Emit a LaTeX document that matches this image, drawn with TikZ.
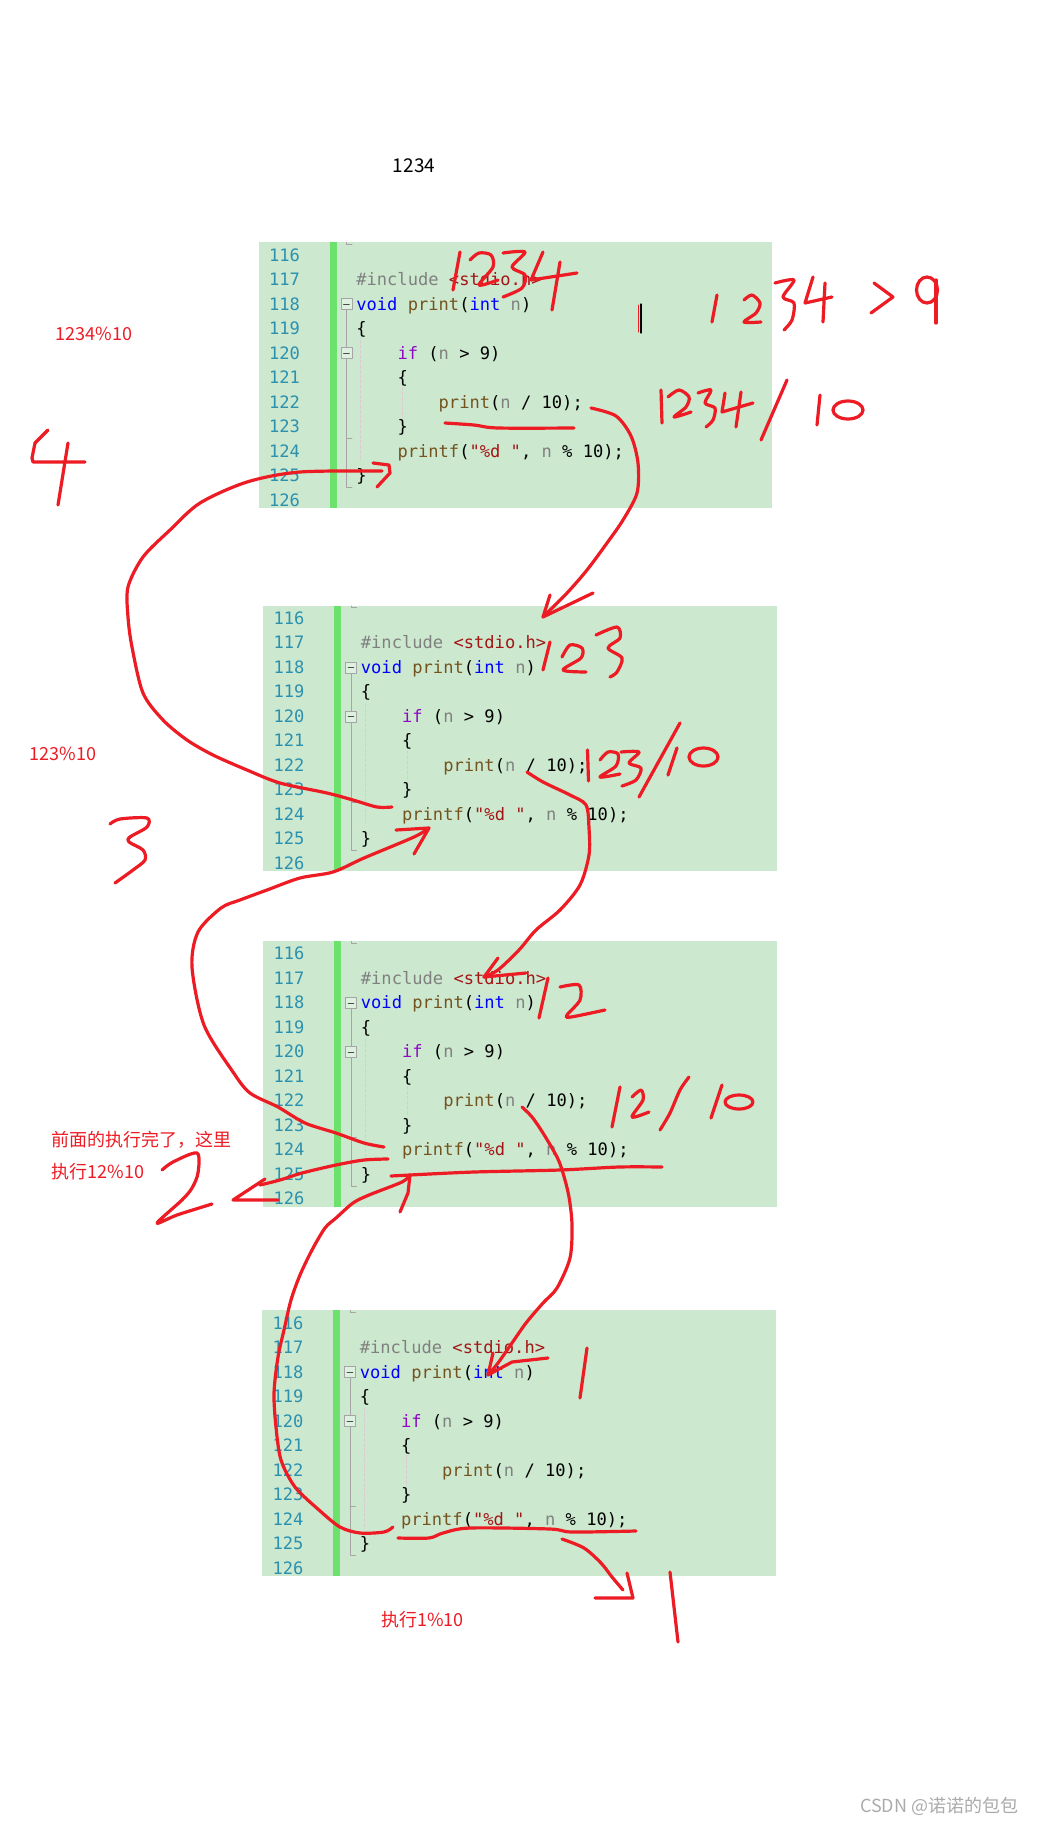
\documentclass[tikz,border=0pt]{standalone}
\usepackage{fontspec}
\setmainfont{Noto Sans CJK SC}
\setmonofont{DejaVu Sans Mono}
\definecolor{annot}{RGB}{237,28,36}
\definecolor{panelbg}{RGB}{204,232,207}
\definecolor{barcol}{RGB}{108,226,108}
\definecolor{lncol}{RGB}{43,145,175}
\definecolor{ckey}{RGB}{0,0,255}
\definecolor{cfun}{RGB}{116,83,31}
\definecolor{cgray}{RGB}{128,128,128}
\definecolor{cstr}{RGB}{163,21,21}
\definecolor{cif}{RGB}{143,8,196}
\definecolor{foldcol}{RGB}{165,165,165}
\definecolor{guidecol}{RGB}{222,200,212}
\newcommand{\codefont}{\ttfamily\fontsize{17.1}{20}\selectfont}
% one editor screenshot: name, left, top
\newcommand{\codepanel}[3]{%
 \begin{scope}[shift={(#2,#3)}]
  \fill[panelbg] (0,0) rectangle (513.5,265.6);
  \fill[barcol] (71,0) rectangle (78,265.6);
  \foreach \i in {0,...,10}{
    \pgfmathtruncatemacro\num{116+\i}
    \node[lnum] (#1n\num) at (41.5,{18.7+24.5*\i}) {\num};}
  \draw[foldcol] (87.8,0)--(87.8,1.5)--(93.5,1.5);
  \draw[foldcol] (87.8,67)--(87.8,105) (87.8,116)--(87.8,244.5)--(93.5,244.5) (87.8,196)--(93.5,196);
  \foreach \y in {61.5,110.5}{
    \draw[foldcol, fill=white!35!panelbg] (82.3,\y-5.5) rectangle (93.3,\y+5.5);
    \draw[black!70] (84.8,\y)--(90.8,\y);}
  \draw[guidecol, densely dashed] (101.6,98)--(101.6,218) (144,145)--(144,175);
  \node[code] (#1c117) at (97.5,{18.7+24.5*1}) {\textcolor{cgray}{\#include} \textcolor{cstr}{<stdio.h>}};
  \node[code] (#1c118) at (97.5,{18.7+24.5*2}) {\textcolor{ckey}{void} \textcolor{cfun}{print}(\textcolor{ckey}{int} \textcolor{cgray}{n})};
  \node[code] (#1c119) at (97.5,{18.7+24.5*3}) {\{};
  \node[code] (#1c120) at (138.7,{18.7+24.5*4}) {\textcolor{cif}{if} (\textcolor{cgray}{n} > 9)};
  \node[code] (#1c121) at (138.7,{18.7+24.5*5}) {\{};
  \node[code] (#1c122) at (179.9,{18.7+24.5*6}) {\textcolor{cfun}{print}(\textcolor{cgray}{n} / 10);};
  \node[code] (#1c123) at (138.7,{18.7+24.5*7}) {\}};
  \node[code] (#1c124) at (138.7,{18.7+24.5*8}) {\textcolor{cfun}{printf}(\textcolor{cstr}{"\%d "}, \textcolor{cgray}{n} \% 10);};
  \node[code] (#1c125) at (97.5,{18.7+24.5*9}) {\}};
 \end{scope}}

\begin{document}
\begin{tikzpicture}[x=1pt, y=-1pt, line join=round, line cap=round,
    pen/.style={draw=annot, line width=3.2pt},
    lnum/.style={anchor=base east, inner sep=0pt, font=\codefont, text=lncol},
    code/.style={anchor=base west, inner sep=0pt, font=\codefont},
    note/.style={inner sep=0pt, text=annot, font=\fontsize{18}{20}\selectfont}]
\useasboundingbox (0,0) rectangle (1046,1826);
\fill[white] (0,0) rectangle (1046,1826);
% the four copies of the function
\codepanel{pa}{258.6}{242.3}
\codepanel{pb}{263.2}{605.7}
\codepanel{pc}{263.2}{941.2}
\codepanel{pd}{262.1}{1310.4}
% printed texts
\node[inner sep=0pt, font=\fontsize{19}{20}\selectfont] (out) at (414,166) {1234};
\node[note] (m1) at (94,334) {1234\%10};
\node[note] (m2) at (63,753.5) {123\%10};
\node[note, anchor=west] (m3) at (51.7,1140) {前面的执行完了，这里};
\node[note, anchor=west] (m4) at (51.7,1171.7) {执行12\%10};
\node[note, anchor=west] (m5) at (381,1620) {执行1\%10};
\node[inner sep=0pt, anchor=west, text=black!33, font=\fontsize{18}{20}\selectfont] (wm) at (860,1806.6) {CSDN @诺诺的包包};
% --- first call: n = 1234
\draw[pen] (460,252)--(453,290);
\draw[pen] plot[smooth] coordinates {(470,260)(479,253)(491,255)(493,267)(479,285)(498,280)};
\draw[pen] plot[smooth] coordinates {(503,253)(525,252)(512,267)(525,275)(522,288)(503,297)};
\draw[pen] (543,252)--(531,280)--(577,273) (560,262)--(552,310);
\draw[pen] plot[smooth] coordinates {(445,423)(474,425)(498,428)(574,428)};
\draw[black, line width=1.2pt] (641,304)--(641,333);
\draw[annot, line width=1pt] (638.8,305)--(638.8,332);
\draw[pen] (717,295)--(712,322);
\draw[pen] plot[smooth] coordinates {(744,300)(752,295)(760,303)(756,313)(744,322)(761,322)};
\draw[pen] plot[smooth] coordinates {(775,283)(794,280)(783,297)(794,303)(792,320)(784,330)};
\draw[pen] (813,277)--(805,303)--(832,297) (825,283)--(823,322);
\draw[pen] (874,283)--(893,297)--(871,313);
\draw[pen] (927,290) ellipse[x radius=10.5, y radius=13];
\draw[pen] (936,280)--(936,323);
\draw[pen] (661,390)--(662,423);
\draw[pen] plot[smooth] coordinates {(668,397)(679,390)(689,397)(686,407)(674,417)(691,412)};
\draw[pen] plot[smooth] coordinates {(698,393)(711,390)(705,403)(715,408)(713,420)(706,427)};
\draw[pen] (725,393)--(722,412)--(753,403) (741,392)--(736,427);
\draw[pen] (787,380)--(761,440);
\draw[pen] (820,395)--(817,425);
\draw[pen] (848,410) ellipse[x radius=15, y radius=9];
\draw[pen] (48,430)--(35,443)--(32,458)--(33,462)--(85,462) (68,443)--(58,505);
\draw[pen] plot[smooth] coordinates {(591,408)(616,416)(631,436)(638,463)(637,493)(623,520)(607,543)(587,570)(567,593)(543,617)};
\draw[pen] (550,595)--(543,617)--(593,593);
\draw[pen] plot[smooth] coordinates {(392,807)(377,807)(353,800)(327,793)(280,783)(247,770)(213,755)(187,740)(163,720)(143,693)(132,647)(128,617)(128,587)(143,557)(170,530)(200,503)(247,482)(300,472)(382,471)};
\draw[pen] (373,463)--(389,465)--(390,473)--(377,487);
% --- second call: n = 123
\draw[pen] (550,642)--(543,670);
\draw[pen] plot[smooth] coordinates {(562,657)(570,645)(582,648)(581,658)(563,670)(586,672)};
\draw[pen] plot[smooth] coordinates {(596,635)(617,627)(620,638)(608,648)(622,658)(617,672)(610,677)};
\draw[pen] (587.5,750)--(588.5,781);
\draw[pen] plot[smooth] coordinates {(600,760)(608,752)(618,754)(616,766)(600,777)(620,774)};
\draw[pen] plot[smooth] coordinates {(621,752)(639,752)(629,763)(641,768)(636,780)(622,786)};
\draw[pen] (680,723)--(639,797);
\draw[pen] (677,748)--(668,775);
\draw[pen] (703.5,757) ellipse[x radius=14.5, y radius=9];
\draw[pen] plot[smooth] coordinates {(527,772)(543,782)(570,795)(586,805)(589,828)(589,855)(580,885)(560,910)(536,930)(519,950)(498,970)(484,977)};
\draw[pen] (498,958)--(484,977)--(526,973);
\draw[pen] plot[smooth] coordinates {(384,1147)(364,1143)(336,1133)(305,1123)(278,1107)(250,1093)(233,1072)(204,1025)(192,967)(198,932)(221,908)(240,900)(267,890)(300,878)(333,872)(364,858)(414,837)(429,828)};
\draw[pen] (396,830)--(429,828)--(414,854);
\draw[pen] plot[smooth] coordinates {(110,824)(120,819)(147,818)(147,827)(130,837)(129,842)(143,850)(145,860)(133,870)(115,883)};
% --- third call: n = 12
\draw[pen] (548,978)--(539,1018);
\draw[pen] plot[smooth] coordinates {(560,987)(579,985)(580,1000)(567,1015)(571,1017)(605,1010)};
\draw[pen] (620,1087)--(612,1127);
\draw[pen] plot[smooth] coordinates {(632,1097)(641,1090)(643,1100)(632,1117)(649,1112)};
\draw[pen] plot[smooth] coordinates {(689,1077)(680,1090)(670,1113)(660,1130)};
\draw[pen] (722,1085)--(711,1118);
\draw[pen] (739,1102) ellipse[x radius=14, y radius=7];
\draw[pen] plot[smooth] coordinates {(410,1175)(474,1172)(560,1170)(619,1167)(662,1167)};
\draw[pen] plot[smooth] coordinates {(388,1159)(364,1160)(336,1165)(302,1173)(280,1180)(260,1185)};
\draw[pen] (265,1179)--(233,1200)--(278,1200);
\draw[pen] plot[smooth] coordinates {(162,1170)(173,1162)(197,1153)(198,1173)(192,1188)(182,1200)(157,1223)(177,1215)(212,1204)};
\draw[pen] plot[smooth] coordinates {(522,1107)(532,1117)(543,1133)(557,1157)(563,1173)(569,1197)(572,1225)(570,1258)(557,1288)(543,1303)(526,1323)(512,1343)(498,1363)(488,1375)};
\draw[pen] (493,1353)--(488,1375)--(512,1362)--(548,1358);
% --- fourth call: n = 1
\draw[pen] (587,1348)--(580,1398);
\draw[pen] plot[smooth] coordinates {(393,1527)(384,1532)(360,1533)(340,1527)(319,1510)(295,1487)(281,1460)(276,1427)(274,1393)(278,1357)(284,1330)(291,1300)(300,1275)(312,1250)(325,1228)(336,1218)(353,1203)(369,1195)(402,1182)(410,1175)};
\draw[pen] (391,1176)--(410,1175)--(408,1193)--(400,1212);
\draw[pen] plot[smooth] coordinates {(398,1538)(429,1538)(443,1533)(470,1528)(550,1529)(572,1532)(636,1531)};
\draw[pen] plot[smooth] coordinates {(562,1539)(584,1548)(601,1563)(612,1577)(623,1590)};
\draw[pen] (627,1573)--(633,1598)--(595,1598);
\draw[pen] (670,1572)--(678,1642);
\end{tikzpicture}
\end{document}
